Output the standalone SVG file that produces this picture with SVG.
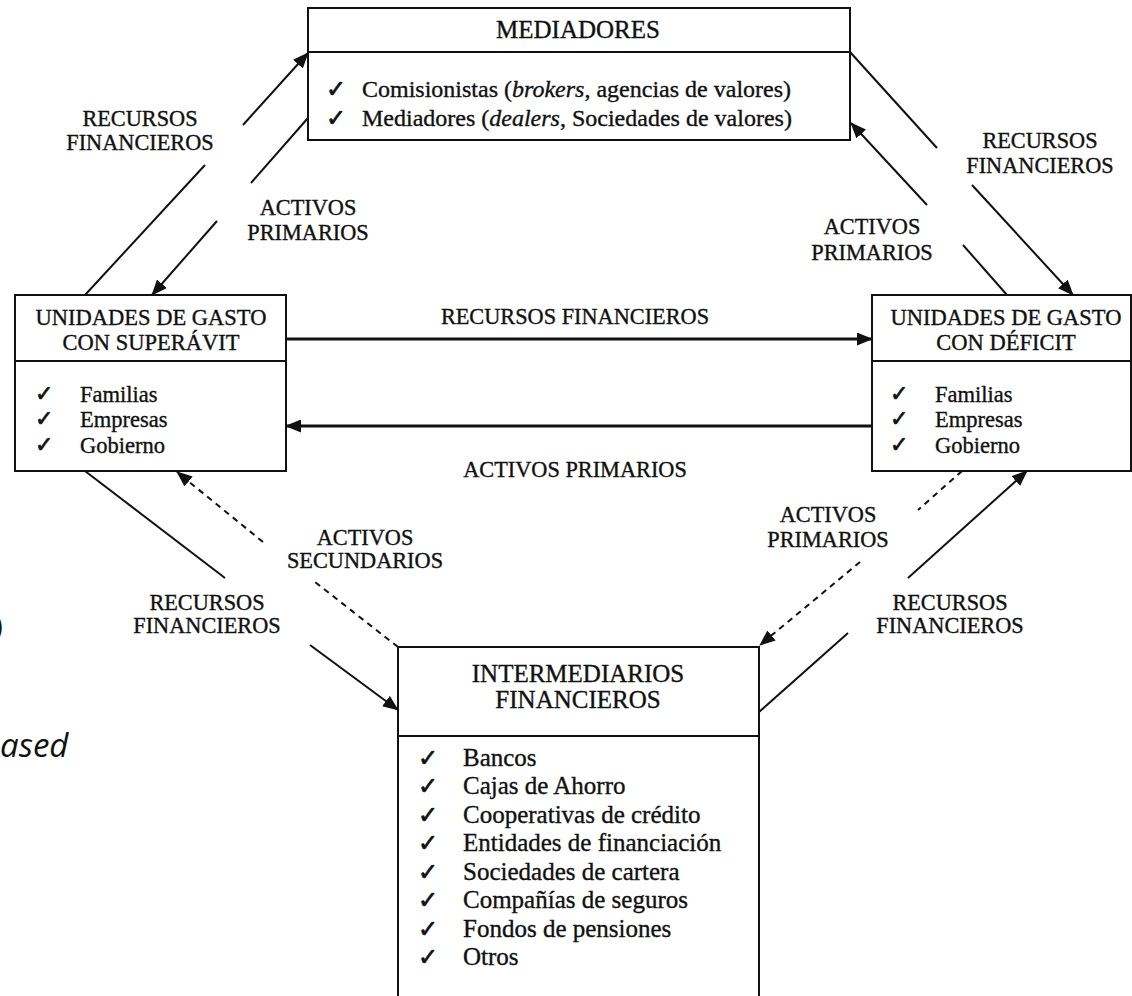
<svg xmlns="http://www.w3.org/2000/svg" width="1132" height="996" viewBox="0 0 1132 996">
<style>
.box{fill:#fff;stroke:#111;stroke-width:2}
.sep{stroke:#111;stroke-width:2}
.t{font-family:"Liberation Serif","Times New Roman",serif;fill:#111;stroke:#111;stroke-width:0.35}
.ttl{font-size:22.5px;text-anchor:middle}
.lbl{font-size:22.3px;text-anchor:middle}
.ck{font-family:"DejaVu Sans",sans-serif;fill:#111;stroke:#111;stroke-width:0.7}
.ln{stroke:#111;stroke-width:2;fill:none}
.thick{stroke:#111;stroke-width:3;fill:none}
.dash{stroke:#111;stroke-width:2;fill:none;stroke-dasharray:6 5}
</style>
<defs>
<marker id="ah" markerUnits="userSpaceOnUse" markerWidth="17" markerHeight="13" refX="15" refY="6.5" orient="auto">
<path d="M0,0 L16,6.5 L0,13 z" fill="#111"/>
</marker>
</defs>
<rect width="1132" height="996" fill="#fff"/>

<g id="mediadores">
<rect class="box" x="308" y="8" width="542" height="132"/>
<line class="sep" x1="308" y1="52" x2="850" y2="52"/>
<text class="t" x="578" y="38" font-size="25" text-anchor="middle" fill="#333" stroke="none">MEDIADORES</text>
<text class="ck" x="326" y="97" font-size="24">✓</text>
<text class="t" x="362" y="97" font-size="24">Comisionistas (<tspan font-style="italic">brokers</tspan>, agencias de valores)</text>
<text class="ck" x="326" y="126" font-size="24">✓</text>
<text class="t" x="362" y="126" font-size="24">Mediadores (<tspan font-style="italic">dealers</tspan>, Sociedades de valores)</text>
</g>

<g id="superavit">
<rect class="box" x="15" y="295" width="271" height="176"/>
<line class="sep" x1="15" y1="361" x2="286" y2="361"/>
<text class="t ttl" x="151" y="325">UNIDADES DE GASTO</text>
<text class="t ttl" x="151" y="350">CON SUPERÁVIT</text>
<text class="ck" x="35" y="401" font-size="22">✓</text>
<text class="t" x="80" y="402" font-size="22.5">Familias</text>
<text class="ck" x="35" y="426" font-size="22">✓</text>
<text class="t" x="80" y="427" font-size="22.5">Empresas</text>
<text class="ck" x="35" y="452" font-size="22">✓</text>
<text class="t" x="80" y="453" font-size="22.5">Gobierno</text>
</g>

<g id="deficit">
<rect class="box" x="872" y="295" width="259" height="176"/>
<line class="sep" x1="872" y1="361" x2="1131" y2="361"/>
<text class="t ttl" x="1006" y="325">UNIDADES DE GASTO</text>
<text class="t ttl" x="1006" y="350">CON DÉFICIT</text>
<text class="ck" x="890" y="401" font-size="22">✓</text>
<text class="t" x="935" y="402" font-size="22.5">Familias</text>
<text class="ck" x="890" y="426" font-size="22">✓</text>
<text class="t" x="935" y="427" font-size="22.5">Empresas</text>
<text class="ck" x="890" y="452" font-size="22">✓</text>
<text class="t" x="935" y="453" font-size="22.5">Gobierno</text>
</g>

<g id="intermediarios">
<rect class="box" x="398" y="647" width="361" height="360"/>
<line class="sep" x1="398" y1="736" x2="759" y2="736"/>
<text class="t" x="578" y="682" font-size="25" text-anchor="middle">INTERMEDIARIOS</text>
<text class="t" x="578" y="708" font-size="25" text-anchor="middle">FINANCIEROS</text>
<g font-size="25" class="t">
<text x="463" y="766">Bancos</text>
<text x="463" y="794">Cajas de Ahorro</text>
<text x="463" y="823">Cooperativas de crédito</text>
<text x="463" y="851">Entidades de financiación</text>
<text x="463" y="880">Sociedades de cartera</text>
<text x="463" y="908">Compañías de seguros</text>
<text x="463" y="937">Fondos de pensiones</text>
<text x="463" y="965">Otros</text>
</g>
<g class="ck" font-size="24">
<text x="418" y="766">✓</text>
<text x="418" y="794">✓</text>
<text x="418" y="823">✓</text>
<text x="418" y="851">✓</text>
<text x="418" y="880">✓</text>
<text x="418" y="908">✓</text>
<text x="418" y="937">✓</text>
<text x="418" y="965">✓</text>
</g>
</g>

<g id="connectors">
<line class="ln" x1="85" y1="295" x2="205" y2="165"/>
<line class="ln" x1="243" y1="125" x2="308" y2="53" marker-end="url(#ah)"/>
<line class="ln" x1="308" y1="118" x2="251" y2="183"/>
<line class="ln" x1="217" y1="221" x2="152" y2="295" marker-end="url(#ah)"/>
<line class="ln" x1="850" y1="52" x2="937" y2="148"/>
<line class="ln" x1="972" y1="185" x2="1073" y2="295" marker-end="url(#ah)"/>
<line class="ln" x1="1007" y1="295" x2="963" y2="245"/>
<line class="ln" x1="927" y1="205" x2="851" y2="123" marker-end="url(#ah)"/>
<line class="thick" x1="286" y1="339" x2="872" y2="339" marker-end="url(#ah)"/>
<line class="thick" x1="872" y1="426" x2="286" y2="426" marker-end="url(#ah)"/>
<line class="ln" x1="85" y1="471" x2="225" y2="578"/>
<line class="ln" x1="310" y1="645" x2="398" y2="710" marker-end="url(#ah)"/>
<line class="dash" x1="398" y1="647" x2="315" y2="582"/>
<line class="dash" x1="263" y1="542" x2="177" y2="472" marker-end="url(#ah)"/>
<line class="dash" x1="962" y1="471" x2="918" y2="510"/>
<line class="dash" x1="860" y1="562" x2="760" y2="645" marker-end="url(#ah)"/>
<line class="ln" x1="759" y1="712" x2="848" y2="633"/>
<line class="ln" x1="908" y1="578" x2="1027" y2="471" marker-end="url(#ah)"/>
</g>

<g id="labels" class="t lbl">
<text x="140" y="126">RECURSOS</text>
<text x="140" y="150">FINANCIEROS</text>
<text x="308" y="215">ACTIVOS</text>
<text x="308" y="240">PRIMARIOS</text>
<text x="1040" y="148">RECURSOS</text>
<text x="1040" y="173">FINANCIEROS</text>
<text x="872" y="234">ACTIVOS</text>
<text x="872" y="260">PRIMARIOS</text>
<text x="575" y="324">RECURSOS FINANCIEROS</text>
<text x="575" y="477">ACTIVOS PRIMARIOS</text>
<text x="365" y="545">ACTIVOS</text>
<text x="365" y="568">SECUNDARIOS</text>
<text x="207" y="610">RECURSOS</text>
<text x="207" y="633">FINANCIEROS</text>
<text x="828" y="522">ACTIVOS</text>
<text x="828" y="547">PRIMARIOS</text>
<text x="950" y="610">RECURSOS</text>
<text x="950" y="633">FINANCIEROS</text>
</g>

<text x="-6" y="636" font-family="'Open Sans',sans-serif" font-size="30" fill="#111">)</text>
<text x="0" y="757" font-family="'Open Sans',sans-serif" font-style="italic" font-size="33" fill="#111">ased</text>
</svg>
